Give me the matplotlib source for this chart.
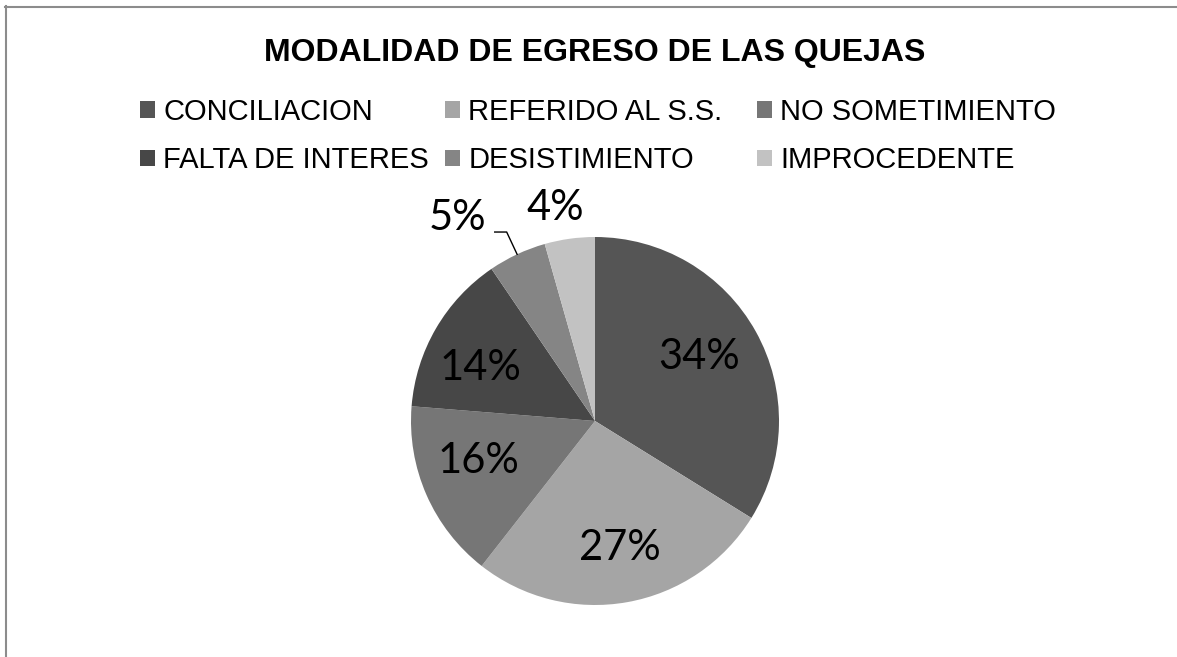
import matplotlib
matplotlib.use("Agg")
import matplotlib.pyplot as plt
from matplotlib.lines import Line2D
import numpy as np

# data
categories = ["CONCILIACION", "REFERIDO AL S.S.", "NO SOMETIMIENTO",
              "FALTA DE INTERES", "DESISTIMIENTO", "IMPROCEDENTE"]
values = [33.8, 26.7, 15.7, 14.2, 5.1, 4.4]
colors = ["#555555", "#a5a5a5", "#767676", "#474747", "#858585", "#c2c2c2"]

W, H = 1177, 657
fig = plt.figure(figsize=(W / 100, H / 100), dpi=100)
fig.patch.set_facecolor("white")

# pie axes: centre at (595, 421) px, radius 184 px
cx, cy, r = 595, 421, 184
ax = fig.add_axes([(cx - r) / W, (H - cy - r) / H, 2 * r / W, 2 * r / H])
wedges, texts, autotexts = ax.pie(values, colors=colors, startangle=90,
                                  counterclock=False, radius=1.0,
                                  autopct="%.0f%%", pctdistance=0.69,
                                  wedgeprops=dict(linewidth=0),
                                  textprops=dict(fontsize=30, family="Lato",
                                                 color="black"))
ax.set_xlim(-1, 1)
ax.set_ylim(-1, 1)
ax.axis("off")

# label placement like the original (two small slices outside)
label_pos = [(0.565, 0.35), (0.136, -0.69), (-0.636, -0.215),
             (-0.62, 0.29), (-0.745, 1.105), (-0.217, 1.16)]
for t, p in zip(autotexts, label_pos):
    t.set_position(p)
    t.set_clip_on(False)

# leader line for DESISTIMIENTO
w = wedges[4]
mid = np.deg2rad((w.theta1 + w.theta2) / 2)
ex, ey = np.cos(mid), np.sin(mid)
ax.plot([-0.545, -0.48, ex], [1.027, 1.027, ey], color="black", lw=1.0,
        clip_on=False)

# title
fig.text(cx / W, 1 - 53 / H, "MODALIDAD DE EGRESO DE LAS QUEJAS",
         ha="center", va="center", fontsize=23, fontweight="bold",
         family="Liberation Sans")

# legend: three columns of two rows, evenly spaced like the original
col_x = [140, 445, 757]
for c, x in enumerate(col_x):
    idx = [c, c + 3]
    leg = fig.legend([wedges[i] for i in idx], [categories[i] for i in idx],
                     loc="upper left", bbox_to_anchor=(x / W, 1 - 98 / H),
                     frameon=False, borderpad=0, borderaxespad=0,
                     handlelength=0.5, handleheight=0.5,
                     handletextpad=0.3, labelspacing=0.7,
                     prop=dict(family="Liberation Sans", size=21))

# chart frame (left and top edges visible)
fig.add_artist(Line2D([5.5 / W, 5.5 / W], [0, 1 - 6 / H], color="#8c8c8c", lw=1.5))
fig.add_artist(Line2D([5 / W, 1], [1 - 6.5 / H, 1 - 6.5 / H], color="#8c8c8c", lw=1.5))

fig.savefig("out.png", dpi=100, facecolor="white")
